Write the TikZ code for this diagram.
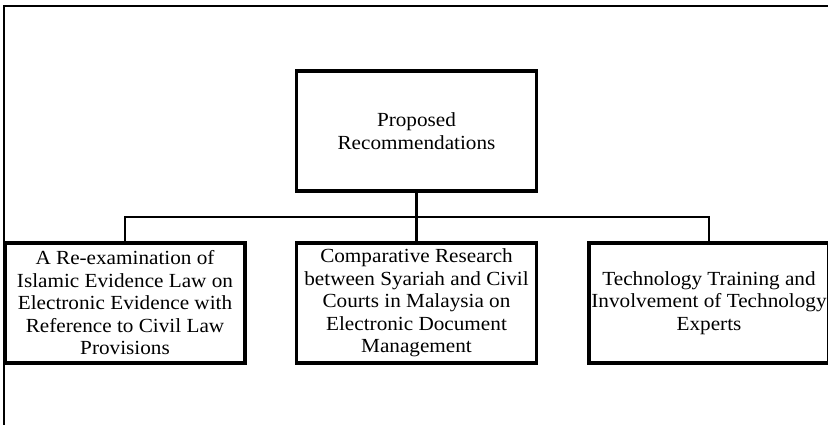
\documentclass[tikz,border=0pt]{standalone}
\usepackage{fontspec}
\setmainfont{Liberation Serif}[FakeStretch=1.06]
\begin{document}
\begin{tikzpicture}[x=1pt,y=-1pt,
  box/.style={draw=black,line width=3.5pt,minimum width=240pt,minimum height=120pt,
    inner sep=0pt,align=center,font=\fontsize{20}{22.5}\selectfont},
  conn/.style={draw=black,line width=2.6pt},
  frame/.style={draw=black,line width=1.2pt}]
\useasboundingbox (0,0) rectangle (828,425);
\fill[white] (0,0) rectangle (828,425);
\coordinate (ftl) at (4,6);
\coordinate (ftr) at (828,6);
\coordinate (fbl) at (4,425);
\draw[frame] (ftr) -- (ftl) -- (fbl);
\node[box] (top) at (416.5,131) {Proposed\\Recommendations};
\node[box] (left) at (125,303) {A Re-examination of\\Islamic Evidence Law on\\Electronic Evidence with\\Reference to Civil Law\\Provisions};
\node[box] (mid) at (416.5,303) {Comparative Research\\between Syariah and Civil\\Courts in Malaysia on\\Electronic Document\\Management};
\node[box] (right) at (709,303) {Technology Training and\\Involvement of Technology\\Experts};
\coordinate (bus) at (416.5,217);
\draw[conn] (top.south) -- (mid.north);
\draw[conn] (left.north) |- (bus) -| (right.north);
\end{tikzpicture}
\end{document}
